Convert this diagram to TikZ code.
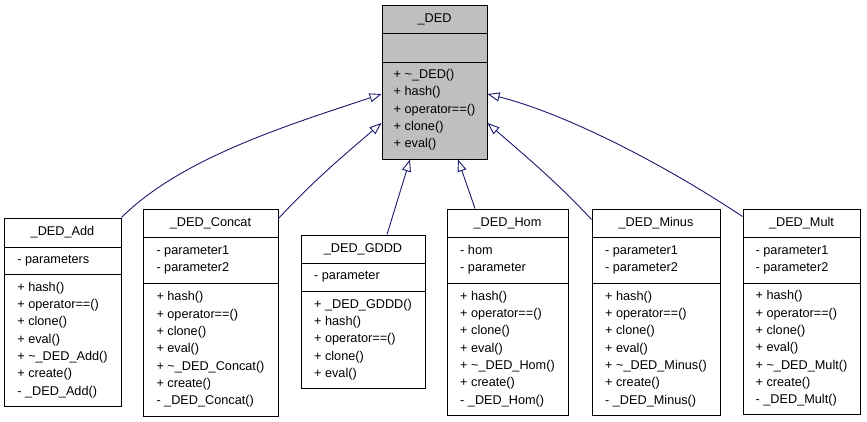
\documentclass[tikz,border=0pt]{standalone}
\usepackage{fontspec}
\setmainfont{Liberation Sans}
\usetikzlibrary{arrows.meta}
\definecolor{edgeblue}{HTML}{191970}
\definecolor{boxgray}{HTML}{BFBFBF}
\newcommand\mytil{\textasciitilde}
\begin{document}
\begin{tikzpicture}[x=1pt,y=-1pt,
  box/.style={draw=black,line width=1pt,inner sep=0pt,rectangle},
  sep/.style={draw=black,line width=1pt},
  txt/.style={inner sep=0pt,align=left,font=\fontsize{12.7}{17.3}\selectfont},
  ttl/.style={inner sep=0pt,align=center,font=\fontsize{12.7}{17.3}\selectfont},
  inh/.style={draw=edgeblue,line width=0.9pt,-{Triangle[length=12pt,width=9pt,fill=white]}}]
\useasboundingbox (0,0) rectangle (867,421);
% _DED
\node[box,fill=boxgray,minimum width=105pt,minimum height=154pt] (ded) at (434.5,82) {};
\draw[sep] (382,33) -- (487,33); \draw[sep] (382,62) -- (487,62);
\node[ttl] (dedt) at (434.5,19) {\_DED};
\node[txt] (dedm) at (434.5,110) {+ \mytil\_DED()\\+ hash()\\+ operator==()\\+ clone()\\+ eval()};
% _DED_Add
\node[box,fill=white,minimum width=117pt,minimum height=188pt] (add) at (62.5,312) {};
\draw[sep] (4,247) -- (121,247); \draw[sep] (4,274) -- (121,274);
\node[ttl] (addt) at (62.5,232.5) {\_DED\_Add};
\node[txt] (addm) at (62.5,340) {+ hash()\\+ operator==()\\+ clone()\\+ eval()\\+ \mytil\_DED\_Add()\\+ create()\\- \_DED\_Add()};
\path (addm.west) ++(0,-79.5) node[txt,anchor=west] (adda) {- parameters};
% _DED_Concat
\node[box,fill=white,minimum width=135pt,minimum height=207pt] (concat) at (210.5,312.5) {};
\draw[sep] (143,237) -- (278,237); \draw[sep] (143,283) -- (278,283);
\node[ttl] (concatt) at (210.5,223) {\_DED\_Concat};
\node[txt] (concatm) at (210.5,349.5) {+ hash()\\+ operator==()\\+ clone()\\+ eval()\\+ \mytil\_DED\_Concat()\\+ create()\\- \_DED\_Concat()};
\path (concatm.west) ++(0,-89.5) node[txt,anchor=west] (concata) {- parameter1\\- parameter2};
% _DED_GDDD
\node[box,fill=white,minimum width=124pt,minimum height=153pt] (gddd) at (363,311.5) {};
\draw[sep] (301,263) -- (425,263); \draw[sep] (301,291) -- (425,291);
\node[ttl] (gdddt) at (363,249) {\_DED\_GDDD};
\node[txt] (gdddm) at (363,339.5) {+ \_DED\_GDDD()\\+ hash()\\+ operator==()\\+ clone()\\+ eval()};
\path (gdddm.west) ++(0,-62.5) node[txt,anchor=west] (gddda) {- parameter};
% _DED_Hom
\node[box,fill=white,minimum width=121pt,minimum height=206pt] (hom) at (507.5,312) {};
\draw[sep] (447,237) -- (568,237); \draw[sep] (447,283) -- (568,283);
\node[ttl] (homt) at (507.5,223) {\_DED\_Hom};
\node[txt] (homm) at (507.5,349) {+ hash()\\+ operator==()\\+ clone()\\+ eval()\\+ \mytil\_DED\_Hom()\\+ create()\\- \_DED\_Hom()};
\path (homm.west) ++(0,-89) node[txt,anchor=west] (homa) {- hom\\- parameter};
% _DED_Minus
\node[box,fill=white,minimum width=128pt,minimum height=206pt] (minus) at (656,312) {};
\draw[sep] (592,237) -- (720,237); \draw[sep] (592,283) -- (720,283);
\node[ttl] (minust) at (656,223) {\_DED\_Minus};
\node[txt] (minusm) at (656,349) {+ hash()\\+ operator==()\\+ clone()\\+ eval()\\+ \mytil\_DED\_Minus()\\+ create()\\- \_DED\_Minus()};
\path (minusm.west) ++(0,-89) node[txt,anchor=west] (minusa) {- parameter1\\- parameter2};
% _DED_Mult
\node[box,fill=white,minimum width=117pt,minimum height=205pt] (mult) at (801.5,311.5) {};
\draw[sep] (743,237) -- (860,237); \draw[sep] (743,283) -- (860,283);
\node[ttl] (multt) at (801.5,223) {\_DED\_Mult};
\node[txt] (multm) at (801.5,348.5) {+ hash()\\+ operator==()\\+ clone()\\+ eval()\\+ \mytil\_DED\_Mult()\\+ create()\\- \_DED\_Mult()};
\path (multm.west) ++(0,-88.5) node[txt,anchor=west] (multa) {- parameter1\\- parameter2};
% inheritance
\draw[inh] (add.north east) .. controls +(60,-60) and +(-90,30) .. ([yshift=-12pt]ded.west);
\draw[inh] ([yshift=-10pt]concat.north east) .. controls +(35,-38) and +(-35,30) .. ([yshift=-41pt]ded.west);
\draw[inh] ([xshift=24pt]gddd.north) -- ([xshift=-24.5pt]ded.south);
\draw[inh] ([xshift=-32.5pt]hom.north) -- ([xshift=23.5pt]ded.south);
\draw[inh] ([yshift=-11pt]minus.north west) .. controls +(-35,-38) and +(32,28) .. ([yshift=-41pt]ded.east);
\draw[inh] ([yshift=-8pt]mult.north west) .. controls +(-75,-50) and +(80,20) .. ([yshift=-12pt]ded.east);
\end{tikzpicture}
\end{document}
